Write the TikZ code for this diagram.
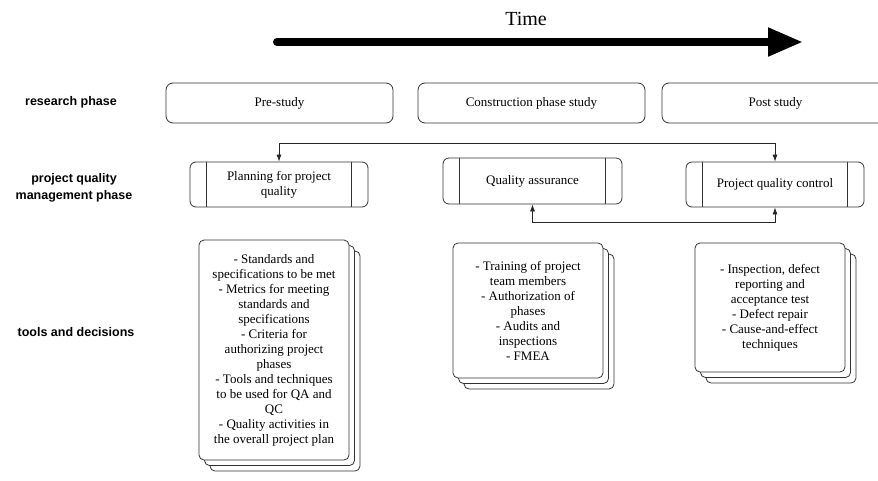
\documentclass[tikz,border=0pt]{standalone}
\usepackage{fontspec}
\setmainfont{Liberation Serif}
\newfontfamily\labelfont{Liberation Sans}
\usetikzlibrary{arrows.meta,shadows}

\tikzset{
  phasebox/.style={draw=black!80, line width=0.8pt, rounded corners=7pt,
    minimum width=227pt, minimum height=40pt, inner sep=0pt,
    font=\fontsize{13}{15}\selectfont},
  procbox/.style={draw=black!80, line width=0.8pt, rounded corners=6pt,
    minimum width=178pt, minimum height=45pt, inner sep=0pt, align=center,
    font=\fontsize{13}{15}\selectfont},
  stackbox/.style={draw=black!80, fill=white, line width=0.8pt, rounded corners=5pt,
    minimum width=150pt, inner sep=0pt, align=center,
    font=\fontsize{13}{15}\selectfont,
    double copy shadow={shadow xshift=5.5pt, shadow yshift=-5.5pt}},
  rowlabel/.style={align=center, font=\labelfont\bfseries\fontsize{12.5}{17}\selectfont},
  link/.style={draw=black!85, line width=0.7pt, {Latex[length=7pt,width=5pt]}-{Latex[length=7pt,width=5pt]}}
}

\begin{document}
\begin{tikzpicture}[x=1pt, y=-1pt]
  \useasboundingbox (0,0) rectangle (878,480);

  % time axis
  \node[font=\fontsize{20}{24}\selectfont] (time) at (526,19) {Time};
  \coordinate (t0) at (277,42);
  \coordinate (t1) at (803,42);
  \draw[line width=8pt, line cap=round, -{Triangle[length=35pt,width=27pt]}] (t0) -- (t1);

  % row labels
  \node[rowlabel] (lres) at (71,102) {research phase};
  \node[rowlabel] (lqm) at (74,188) {project quality\\management phase};
  \node[rowlabel] (ltools) at (76,332) {tools and decisions};

  % research phases
  \node[phasebox] (pre) at (279.5,103) {Pre-study};
  \node[phasebox] (cons) at (531.5,103) {Construction phase study};
  \node[phasebox] (post) at (775.5,103) {Post study};

  % quality management processes
  \node[procbox] (plan) at (279,184.5) {Planning for project\\quality};
  \node[procbox, minimum width=179pt, minimum height=46pt] (qa) at (532.5,181) {Quality assurance};
  \node[procbox] (pqc) at (775,184.5) {Project quality control};
  \foreach \n in {plan,qa,pqc}{
    \draw[black!80, line width=0.8pt] ([xshift=17pt]\n.north west) -- ([xshift=17pt]\n.south west);
    \draw[black!80, line width=0.8pt] ([xshift=-17pt]\n.north east) -- ([xshift=-17pt]\n.south east);
  }

  % links between processes
  \draw[link] (plan.north) -- ++(0,-18) -| (pqc.north);
  \draw[link] (qa.south) -- ++(0,18) -| (pqc.south);

  % tools and decisions
  \node[stackbox, minimum height=220pt] (tplan) at (274,350) {%
    - Standards and\\specifications to be met\\- Metrics for meeting\\standards and\\specifications\\%
    - Criteria for\\authorizing project\\phases\\- Tools and techniques\\to be used for QA and\\QC\\%
    - Quality activities in\\the overall project plan};
  \node[stackbox, minimum height=135pt] (tqa) at (528,310.5) {%
    - Training of project\\team members\\- Authorization of\\phases\\- Audits and\\inspections\\- FMEA};
  \node[stackbox, minimum height=129pt] (tpqc) at (770,307.5) {%
    - Inspection, defect\\reporting and\\acceptance test\\- Defect repair\\- Cause-and-effect\\techniques};
\end{tikzpicture}
\end{document}
